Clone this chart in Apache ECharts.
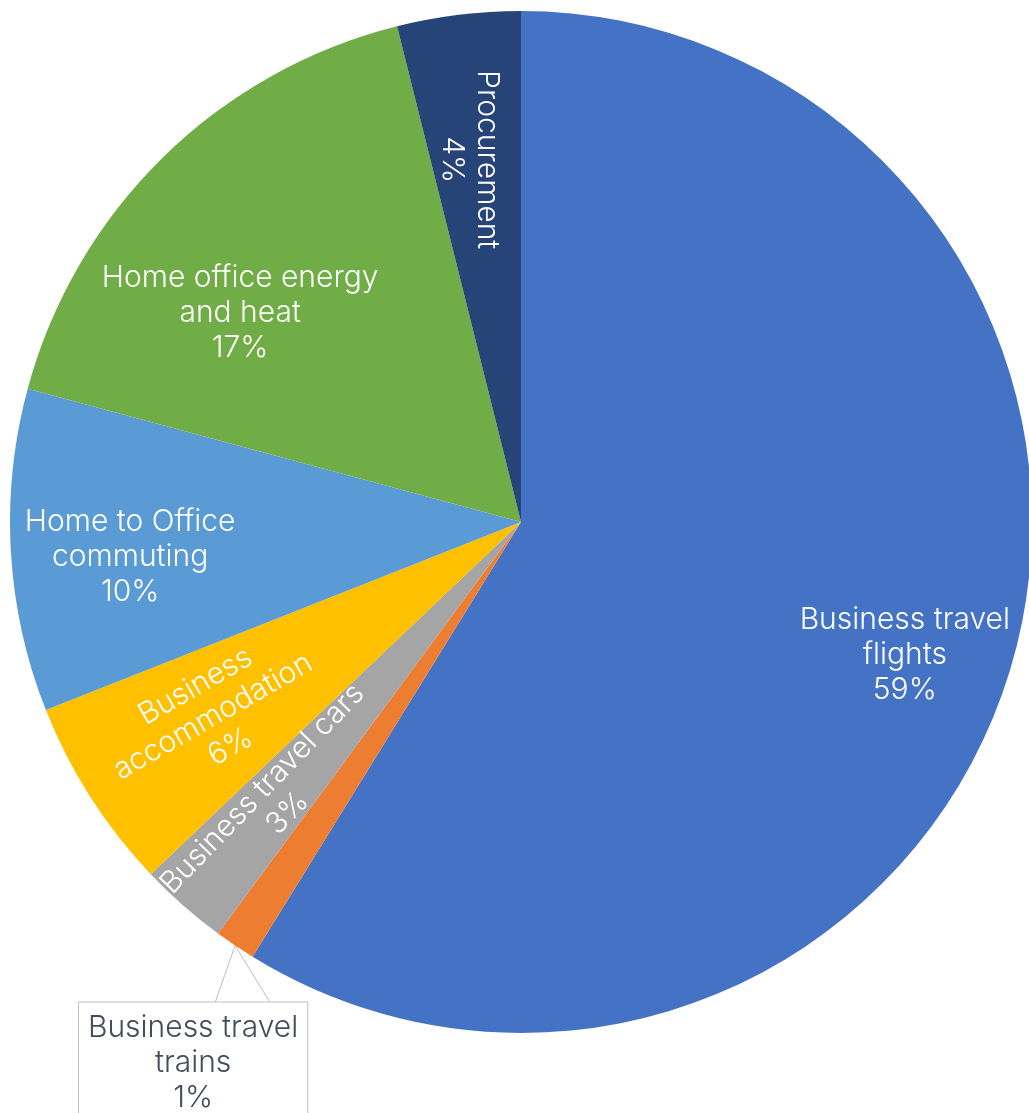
<!DOCTYPE html>
<html>
<head>
<meta charset="utf-8">
<script src="https://cdn.jsdelivr.net/npm/echarts@6/dist/echarts.min.js"></script>
<style>
  html, body { margin: 0; padding: 0; background: #ffffff; }
  #chart { width: 1029px; height: 1113px; }
</style>
</head>
<body>
<div id="chart"></div>
<script>
// Emission sources, clockwise from twelve o'clock
const categories = [
  'Business travel\nflights',
  'Business travel\ntrains',
  'Business travel cars',
  'Business\naccommodation',
  'Home to Office\ncommuting',
  'Home office energy\nand heat',
  'Procurement'
];
const shares = [58.8, 1.3, 2.8, 6.1, 10.2, 16.9, 3.9];
const sliceColors = ['#4472C4', '#ED7D31', '#A5A5A5', '#FFC000', '#5B9BD5', '#70AD47', '#264478'];

// Pie geometry
const CX = 521, CY = 522, R = 511;

// Where each label sits: fraction of the radius, angular nudge from the slice middle (deg), text rotation (deg)
const labelPlacement = [
  { r: 0.795, nudge: 3.3, rotate: 0 },
  { callout: true },
  { r: 0.728, nudge: 0, rotate: 46 },
  { r: 0.713, nudge: 0.3, rotate: 30 },
  { r: 0.768, nudge: -1.9, rotate: 0 },
  { r: 0.685, nudge: -8.9, rotate: 0 },
  { r: 0.716, nudge: -1, rotate: -90 }
];

const total = shares.reduce((a, b) => a + b, 0);
const midAngles = [];
let acc = 0;
shares.forEach(v => { midAngles.push((acc + v / 2) / total * 360); acc += v; });

function polar(angleDeg, radius) {
  const a = angleDeg * Math.PI / 180;
  return [CX + radius * Math.sin(a), CY - radius * Math.cos(a)];
}

const FONT = 'Inter, "Open Sans", sans-serif';

const data = categories.map((name, i) => {
  const item = { name: name, value: shares[i], itemStyle: { color: sliceColors[i] } };
  if (labelPlacement[i].callout) {
    item.label = {
      position: 'outside',
      color: '#434C5C',
      backgroundColor: '#ffffff',
      borderColor: '#BFBFBF',
      borderWidth: 1,
      padding: [8, 9, 14, 9]
    };
    item.labelLine = { show: true, lineStyle: { color: '#BFBFBF', width: 1 } };
  }
  return item;
});

const chart = echarts.init(document.getElementById('chart'), null, { renderer: 'canvas' });
chart.setOption({
  backgroundColor: '#ffffff',
  animation: false,
  series: [{
    type: 'pie',
    center: [CX, CY],
    radius: R,
    startAngle: 90,
    clockwise: true,
    avoidLabelOverlap: false,
    percentPrecision: 0,
    data: data,
    label: {
      show: true,
      position: 'inside',
      formatter: '{b}\n{d}%',
      color: '#ffffff',
      fontFamily: FONT,
      fontWeight: 300,
      fontSize: 30,
      lineHeight: 35,
      align: 'center'
    },
    labelLine: { show: false },
    labelLayout: function (params) {
      const i = params.dataIndex;
      const p = labelPlacement[i];
      if (p.callout) {
        const apex = polar(midAngles[i], R);
        const boxTop = apex[1] + 57;
        return {
          x: apex[0] - 42,
          y: boxTop,
          align: 'center',
          verticalAlign: 'top',
          labelLinePoints: [[apex[0] - 20, boxTop], apex, [apex[0] + 35, boxTop]]
        };
      }
      const pt = polar(midAngles[i] + p.nudge, p.r * R);
      return { x: pt[0], y: pt[1], align: 'center', verticalAlign: 'middle', rotate: p.rotate };
    }
  }]
});
</script>
</body>
</html>
